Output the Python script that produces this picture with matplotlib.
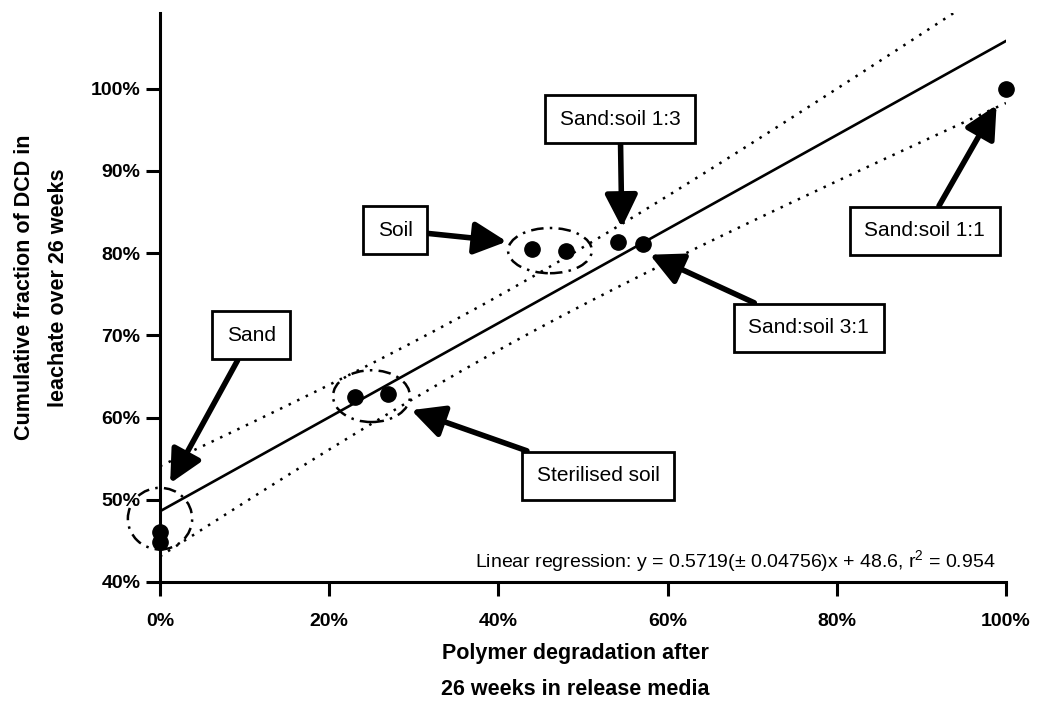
import matplotlib
matplotlib.use("Agg")
import matplotlib.pyplot as plt
import numpy as np
from matplotlib.patches import Ellipse

plt.rcParams["font.family"] = ["Liberation Sans", "DejaVu Sans"]
plt.rcParams["mathtext.default"] = "regular"

# data (percent)
degradation = [0, 0, 23, 27, 44, 48, 54.1, 57.1, 100]
dcd_fraction = [46.1, 44.9, 62.5, 62.9, 80.5, 80.3, 81.4, 81.1, 100]

SLOPE = 0.5719
INTERCEPT = 48.6
T_CRIT = 2.365  # t(0.975, df=7)

x_ticks = [0, 20, 40, 60, 80, 100]
y_ticks = [40, 50, 60, 70, 80, 90, 100]

# (label, arrow tip, box centre) in data units
labels = ["Sand", "Soil", "Sand:soil 1:3", "Sand:soil 3:1", "Sand:soil 1:1", "Sterilised soil"]
tips = [(1.2, 52.0), (41.0, 81.4), (54.6, 83.1), (57.9, 79.8), (98.9, 98.0), (29.7, 60.9)]
boxes = [(10.8, 70.0), (27.8, 82.8), (54.4, 96.3), (76.7, 70.9), (90.4, 82.7), (51.8, 52.9)]

# groups circled with dash-dot ellipses: centre, width, height
group_centres = [(0, 47.7), (25.0, 62.6), (46.1, 80.3)]
group_sizes = [(7.6, 7.5), (9.1, 6.3), (9.9, 5.5)]

fig = plt.figure(figsize=(10.37, 7.01), dpi=100)
ax = fig.add_axes([0.1543, 0.1698, 0.8157, 0.8117])

x = np.array(degradation)
y = np.array(dcd_fraction)
n = len(x)
xm = x.mean()
sxx = ((x - xm) ** 2).sum()
resid = y - (SLOPE * x + INTERCEPT)
s = np.sqrt((resid ** 2).sum() / (n - 2))

xs = np.linspace(0, 100, 200)
fit = SLOPE * xs + INTERCEPT
half = T_CRIT * s * np.sqrt(1 / n + (xs - xm) ** 2 / sxx)

ax.plot(xs, fit, color="black", lw=1.9)
ax.plot(xs, fit + half, color="black", lw=1.8, ls=(0, (1, 2.8)))
ax.plot(xs, fit - half, color="black", lw=1.8, ls=(0, (1, 2.8)))
ax.plot(x, y, "o", color="black", ms=11, clip_on=False, zorder=5)

for (cx, cy), (w, h) in zip(group_centres, group_sizes):
    ax.add_patch(Ellipse((cx, cy), w, h, fill=False, ec="black", lw=1.8,
                         ls=(0, (5, 2.5, 1, 2.5)), clip_on=False))

for text, tip, box in zip(labels, tips, boxes):
    ax.annotate(
        text, xy=tip, xytext=box, ha="center", va="center", fontsize=15,
        bbox=dict(boxstyle="square,pad=0.7", fc="white", ec="black", lw=2),
        arrowprops=dict(arrowstyle="-|>,head_length=0.9,head_width=0.45",
                        mutation_scale=22, lw=4, color="black",
                        shrinkA=0, shrinkB=0),
    )

ax.text(98.8, 42.6, "Linear regression: y = 0.5719(± 0.04756)x + 48.6, r$^{2}$ = 0.954",
        ha="right", va="center", fontsize=14)

ax.set_xlim(0, 100)
ax.set_ylim(40, 109.2)
ax.set_xticks(x_ticks)
ax.set_yticks(y_ticks)
ax.set_xticklabels([f"{t}%" for t in x_ticks], fontweight="bold", fontsize=14)
ax.set_yticklabels([f"{t}%" for t in y_ticks], fontweight="bold", fontsize=14)
ax.tick_params(length=10, width=2.2, direction="out", pad=4)
ax.tick_params(axis="x", pad=12)
for side in ["top", "right"]:
    ax.spines[side].set_visible(False)
for side in ["left", "bottom"]:
    ax.spines[side].set_linewidth(2.2)

fig.text(0.555, 0.042, "Polymer degradation after\n26 weeks in release media",
         ha="center", va="center", fontsize=15.5, fontweight="bold", linespacing=1.9)
fig.text(0.04, 0.59, "Cumulative fraction of DCD in\nleachate over 26 weeks",
         ha="center", va="center", rotation=90, fontsize=15.5, fontweight="bold",
         linespacing=1.8)

fig.savefig("out.png", dpi=100)
